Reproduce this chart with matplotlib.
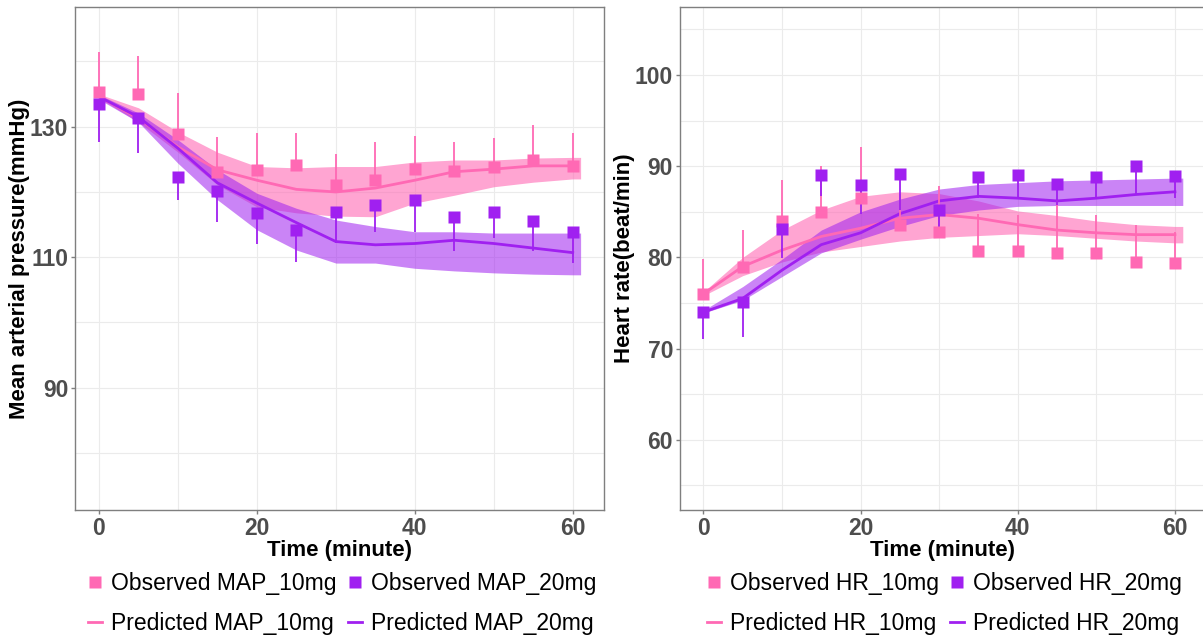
import matplotlib
matplotlib.use("Agg")
import matplotlib.pyplot as plt
from matplotlib.lines import Line2D
import numpy as np

plt.rcParams['font.family'] = ['Liberation Sans', 'DejaVu Sans']

time = [0, 5, 10, 15, 20, 25, 30, 35, 40, 45, 50, 55, 60]
band_time = [0, 5, 10, 15, 20, 25, 30, 35, 40, 45, 50, 55, 60, 61]

# ---- MAP ----
map10_obs = [135.3, 135.0, 128.9, 123.0, 123.3, 124.1, 121.1, 121.9, 123.5, 123.2, 123.8, 124.9, 124.0]
map10_top = [141.5, 140.8, 135.1, 128.5, 129.1, 129.0, 125.8, 127.6, 128.6, 127.6, 128.2, 130.3, 129.0]
map20_obs = [133.5, 131.3, 122.3, 120.2, 116.7, 114.1, 116.9, 118.0, 118.7, 116.1, 116.9, 115.6, 113.8]
map20_bot = [127.7, 126.0, 118.8, 115.4, 112.1, 109.3, 112.2, 113.8, 113.9, 111.0, 112.9, 111.0, 109.1]
map10_pred = [134.6, 131.3, 126.9, 123.4, 121.8, 120.4, 120.0, 120.6, 121.8, 123.1, 123.5, 124.0, 124.0]
map20_pred = [134.6, 131.5, 126.7, 121.4, 118.3, 115.3, 112.4, 111.9, 112.1, 112.6, 112.1, 111.4, 110.7]
map10_hi = [135.0, 132.9, 129.2, 126.1, 123.9, 123.7, 123.9, 123.9, 124.6, 124.9, 124.9, 125.2, 125.3, 125.3]
map10_lo = [134.4, 130.7, 126.1, 121.1, 117.7, 116.8, 116.3, 116.2, 118.3, 119.5, 120.8, 121.5, 122.0, 122.0]
map20_hi = [134.9, 132.1, 128.0, 123.4, 119.8, 117.5, 115.7, 114.7, 113.9, 113.9, 113.7, 113.7, 113.7, 113.7]
map20_lo = [134.2, 130.7, 124.4, 118.8, 114.2, 111.1, 109.1, 109.1, 108.3, 107.9, 107.6, 107.4, 107.3, 107.3]

# ---- HR ----
hr10_obs = [76.0, 78.9, 84.0, 85.0, 86.5, 83.6, 82.8, 80.7, 80.7, 80.5, 80.5, 79.5, 79.4]
hr10_top = [79.8, 83.0, 88.5, 90.0, 92.1, 87.0, 87.8, 84.8, 84.7, 86.3, 84.6, 83.6, 82.8]
hr20_obs = [74.0, 75.1, 83.1, 89.0, 87.9, 89.2, 85.2, 88.8, 89.0, 88.0, 88.8, 90.0, 88.9]
hr20_bot = [71.0, 71.3, 79.9, 86.7, 84.8, 85.2, 83.0, 86.5, 86.5, 85.8, 86.5, 86.9, 86.5]
hr10_pred = [76.0, 79.0, 80.8, 82.3, 83.2, 84.3, 84.7, 84.3, 83.6, 83.0, 82.7, 82.5, 82.5]
hr20_pred = [74.0, 75.5, 78.6, 81.4, 82.7, 84.8, 86.2, 86.7, 86.5, 86.2, 86.5, 86.9, 87.2]
hr10_hi = [76.2, 80.0, 83.0, 85.2, 86.7, 87.2, 87.0, 86.2, 85.1, 84.6, 84.0, 83.6, 83.4, 83.4]
hr10_lo = [75.8, 78.0, 79.5, 80.6, 81.2, 81.8, 82.2, 82.4, 82.6, 82.4, 82.1, 81.8, 81.6, 81.6]
hr20_hi = [74.2, 76.8, 79.8, 83.0, 85.0, 86.4, 87.5, 88.0, 88.2, 88.4, 88.5, 88.6, 88.7, 88.7]
hr20_lo = [73.9, 75.3, 77.9, 80.5, 82.0, 83.4, 84.6, 85.2, 85.6, 85.7, 85.7, 85.7, 85.7, 85.7]

PINK = '#FF69B4'
PURPLE = '#A020F0'

fig = plt.figure(figsize=(12.03, 6.39), dpi=100)
ax1 = fig.add_axes([75.3/1203, (639-510)/639, (604.3-75.3)/1203, (510-6.7)/639])
ax2 = fig.add_axes([680/1203, (639-510)/639, (1204-680)/1203, (510-6.7)/639])


def draw(ax, obs10, top10, obs20, bot20, pred10, pred20, hi10, lo10, hi20, lo20):
    ax.fill_between(band_time, lo10, hi10, color=PINK, alpha=0.6, lw=0, zorder=2)
    ax.fill_between(band_time, lo20, hi20, color=PURPLE, alpha=0.55, lw=0, zorder=2.1)
    ax.plot(time, pred10, color=PINK, lw=2, zorder=3)
    ax.plot(time, pred20, color=PURPLE, lw=2, zorder=3.1)
    o10 = np.array(obs10); o20 = np.array(obs20)
    ax.vlines(time, o10, top10, color=PINK, lw=1.3, zorder=4)
    ax.vlines(time, bot20, o20, color=PURPLE, lw=1.3, zorder=4.1)
    ax.plot(time, obs10, 's', color=PINK, ms=8, mec='none', zorder=5)
    ax.plot(time, obs20, 's', color=PURPLE, ms=8, mec='none', zorder=5.1)
    for s in ax.spines.values():
        s.set_color('#7F7F7F')
        s.set_linewidth(1.0)
    ax.tick_params(colors='#7F7F7F', length=3, width=1, labelcolor='#4D4D4D', labelsize=16.5, pad=2)
    for lab in ax.get_xticklabels() + ax.get_yticklabels():
        lab.set_fontweight('bold')
    ax.grid(True, which='both', color='#EBEBEB', lw=0.8, zorder=0)
    ax.set_axisbelow(True)
    ax.set_xlabel('Time (minute)', fontsize=16, fontweight='bold', labelpad=0)


# left
ax1.set_xlim(-3.0, 64.0)
ax1.set_ylim(71.25, 148.4)
ax1.set_xticks([0, 20, 40, 60])
ax1.set_xticks([10, 30, 50], minor=True)
ax1.set_yticks([90, 110, 130])
ax1.set_yticks([80, 100, 120, 140], minor=True)
ax1.tick_params(which='minor', length=0)
draw(ax1, map10_obs, map10_top, map20_obs, map20_bot, map10_pred, map20_pred,
     map10_hi, map10_lo, map20_hi, map20_lo)
ax1.set_ylabel('Mean arterial pressure(mmHg)', fontsize=16, fontweight='bold', labelpad=0)

# right
ax2.set_xlim(-2.97, 63.7)
ax2.set_ylim(52.3, 107.5)
ax2.set_xticks([0, 20, 40, 60])
ax2.set_xticks([10, 30, 50], minor=True)
ax2.set_yticks([60, 70, 80, 90, 100])
ax2.set_yticks([55, 65, 75, 85, 95, 105], minor=True)
ax2.tick_params(which='minor', length=0)
draw(ax2, hr10_obs, hr10_top, hr20_obs, hr20_bot, hr10_pred, hr20_pred,
     hr10_hi, hr10_lo, hr20_hi, hr20_lo)
ax2.set_ylabel('Heart rate(beat/min)', fontsize=16, fontweight='bold', labelpad=0)


def legend(ax, name):
    handles = [
        Line2D([], [], ls='none', marker='s', color=PINK, ms=8, mec='none'),
        Line2D([], [], color=PINK, lw=2),
        Line2D([], [], ls='none', marker='s', color=PURPLE, ms=8, mec='none'),
        Line2D([], [], color=PURPLE, lw=2),
    ]
    labels = [f'Observed {name}_10mg', f'Predicted {name}_10mg',
              f'Observed {name}_20mg', f'Predicted {name}_20mg']
    ax.legend(handles, labels, ncol=2, loc='upper center', bbox_to_anchor=(0.505, -0.105),
              frameon=False, fontsize=16.5, handlelength=0.6, handletextpad=0.4,
              columnspacing=0.5, labelspacing=0.74, borderaxespad=0)


legend(ax1, 'MAP')
legend(ax2, 'HR')

fig.savefig('out.png', dpi=100)
